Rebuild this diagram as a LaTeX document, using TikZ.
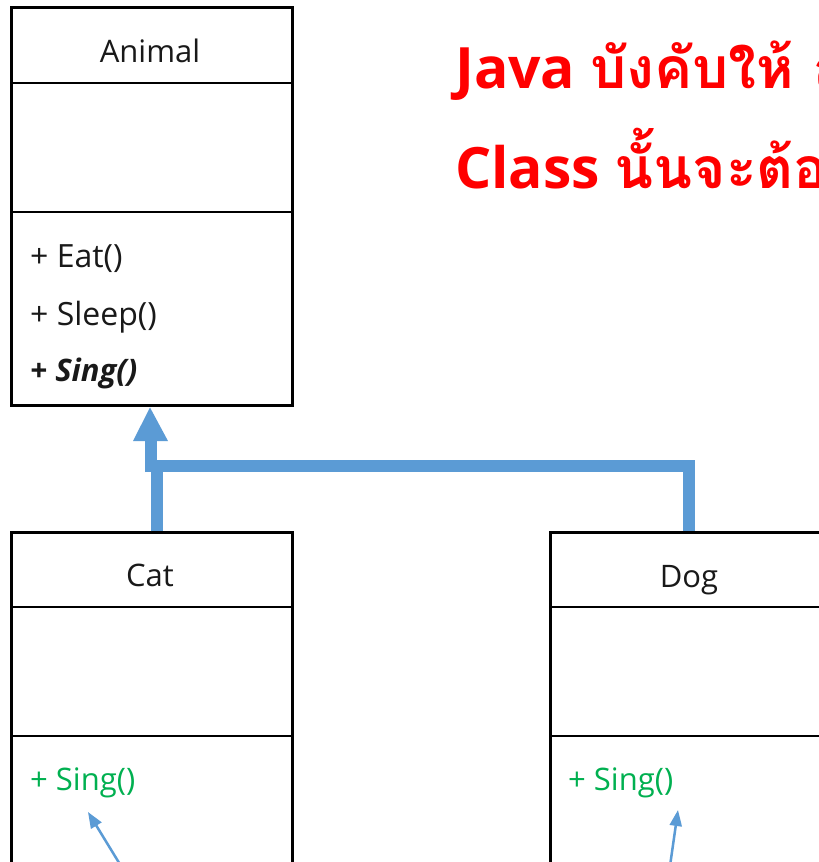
\documentclass[tikz,border=0pt]{standalone}
\usepackage{fontspec}
\setmainfont{Open Sans}
\newfontfamily\thaifont[Script=Thai]{Loma}
\usetikzlibrary{arrows.meta}
\definecolor{conn}{HTML}{5B9BD5}
\definecolor{redtxt}{HTML}{FF0000}
\definecolor{greentxt}{HTML}{00B050}
\tikzset{
  umlbox/.style={draw=black, line width=2.5pt, rectangle, anchor=north west, inner sep=0pt},
  divline/.style={draw=black, line width=2.5pt},
  cname/.style={font=\fontsize{31}{31}\selectfont, text=black!90, anchor=base, inner sep=0pt},
  meth/.style={font=\fontsize{32}{32}\selectfont, text=black!90, anchor=base west, inner sep=0pt},
  gmeth/.style={meth, font=\fontsize{31}{31}\selectfont, text=greentxt},
  inherit/.style={draw=conn, line width=12pt},
  pointer/.style={draw=conn, line width=2.5pt, -{Triangle[length=16pt,width=12pt]}},
  redline/.style={font=\fontsize{57}{57}\selectfont\bfseries, text=redtxt, anchor=base west, inner sep=0pt}
}
\begin{document}
\begin{tikzpicture}[x=1pt,y=-1pt]
\useasboundingbox (0,0) rectangle (819,862);
\clip (0,0) rectangle (819,862);
\fill[white] (0,0) rectangle (819,862);

% Animal
\node[umlbox, minimum width=281pt, minimum height=398pt] (animal) at (10,6) {};
\draw[divline] (10,83) -- (291,83);
\draw[divline] (10,212) -- (291,212);
\node[cname] (animalname) at (150,62) {Animal};
\node[meth] (eat) at (30,267) {+ Eat()};
\node[meth] (sleep) at (30,325) {+ Sleep()};
\node[meth, font=\fontsize{31}{31}\selectfont\bfseries\itshape] (sing) at (30,381) {+ Sing()};

% Cat
\node[umlbox, minimum width=281pt, minimum height=420pt] (cat) at (10,531) {};
\draw[divline] (10,607) -- (291,607);
\draw[divline] (10,736) -- (291,736);
\node[cname] (catname) at (150,586) {Cat};
\node[gmeth] (catsing) at (30,790) {+ Sing()};

% Dog
\node[umlbox, minimum width=320pt, minimum height=420pt] (dog) at (549,531) {};
\draw[divline] (549,607) -- (880,607);
\draw[divline] (549,736) -- (880,736);
\node[cname] (dogname) at (689,587) {Dog};
\node[gmeth] (dogsing) at (568,790) {+ Sing()};

% inheritance connectors
\draw[inherit] (cat.north west -| 157,0) -- (157,466);
\draw[inherit] (dog.north west -| 689,0) -- (689,466) -- (145,466);
\draw[inherit] (151,472) -- (151,436);
\fill[conn] (animal.south west -| 150,0) ++(0,1) -- (133,441) -- (168,441) -- cycle;

% pointer arrows
\coordinate (catptr) at (121,866);
\coordinate (dogptr) at (670,866);
\draw[pointer] (catptr) -- (88,812);
\draw[pointer] (dogptr) -- (678,810);

% red heading
\node[redline] (head1) at (455,88) {Java {\thaifont\bfseries บังคับให้ ถ้า}};
\node[redline] (head2) at (455,188) {Class {\thaifont\bfseries นั้นจะต้องเป็น}};
\end{tikzpicture}
\end{document}
